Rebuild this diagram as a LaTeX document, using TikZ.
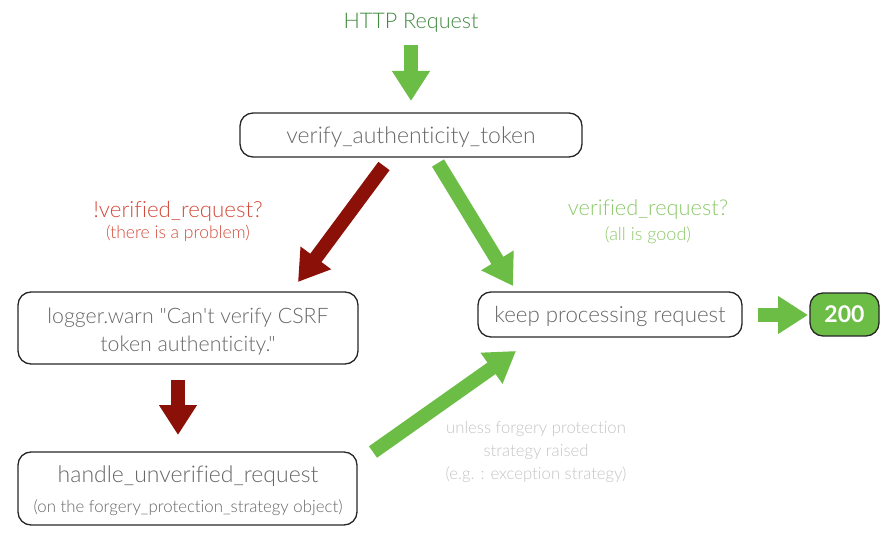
\documentclass[tikz,border=0pt]{standalone}
\usepackage{fontspec}
\setmainfont{Lato}[UprightFont={* Light},BoldFont={* Bold},Ligatures={TeXOff,CommonOff}]
\usetikzlibrary{arrows.meta}
\definecolor{garrow}{HTML}{6CBD45}
\definecolor{rarrow}{HTML}{8A1008}
\definecolor{txt}{HTML}{666666}
\definecolor{httpc}{HTML}{3F8A3F}
\definecolor{redc}{HTML}{D24A3A}
\definecolor{lgreen}{HTML}{8CC86A}
\definecolor{lgray}{HTML}{C4C4C4}
\newcommand{\fs}[1]{\fontsize{#1}{#1}\selectfont}
\tikzset{
  box/.style={draw=black!85, line width=1.3pt, rounded corners=13pt, inner sep=0pt},
  lbl/.style={text=txt, inner sep=0pt, anchor=base},
  garr/.style={draw=garrow, line width=14pt, -{Triangle[width=36pt,length=30pt]}},
  rarr/.style={draw=rarrow, line width=14pt, -{Triangle[width=36pt,length=30pt]}},
}
\begin{document}
\begin{tikzpicture}[x=1pt,y=-1pt]
\useasboundingbox (0,0) rectangle (892,543);
% boxes
\node[box, minimum width=342pt, minimum height=44pt] (verify) at (411,135) {};
\node[box, minimum width=340pt, minimum height=72pt] (logger) at (188,328) {};
\node[box, minimum width=264pt, minimum height=45pt] (keep) at (610,314.5) {};
\node[box, fill=garrow, minimum width=69pt, minimum height=43pt] (ok) at (844.5,314.5) {};
\node[box, minimum width=339pt, minimum height=73pt] (handle) at (187.5,488.5) {};
% texts
\node[lbl, text=httpc, font=\fs{21.6}] (http) at (411,29) {HTTP Request};
\node[lbl, font=\fs{23}] (verifyt) at (411,143) {verify\_authenticity\_token};
\node[lbl, font=\fs{21.3}] (log1) at (188,323) {logger.warn \char34 Can\char39 t verify CSRF};
\node[lbl, font=\fs{21.3}] (log2) at (188,351) {token authenticity.\char34};
\node[lbl, font=\fs{22.3}] (keept) at (610,322) {keep processing request};
\node[lbl, text=white, font=\fs{23}\bfseries] (okt) at (844.5,322.5) {200};
\node[lbl, font=\fs{23}] (hand1) at (188,482) {handle\_unverified\_request};
\node[lbl, font=\fs{16.8}] (hand2) at (188,512) {(on the forgery\_protection\_strategy object)};
\node[lbl, text=redc, font=\fs{22.3}] (bad1) at (178,217) {!verified\_request?};
\node[lbl, text=redc, font=\fs{17.5}] (bad2) at (178,238.5) {(there is a problem)};
\node[lbl, text=lgreen, font=\fs{21.8}] (good1) at (648,215) {verified\_request?};
\node[lbl, text=lgreen, font=\fs{18}] (good2) at (648,240) {(all is good)};
\node[lbl, text=lgray, font=\fs{16.7}] (un1) at (536,433) {unless forgery protection};
\node[lbl, text=lgray, font=\fs{16.7}] (un2) at (536,456) {strategy raised};
\node[lbl, text=lgray, font=\fs{16.7}] (un3) at (536,479) {(e.g. : exception strategy)};
% arrows
\coordinate (a1s) at (411,45);
\coordinate (a1e) at (411,101);
\draw[garr] (a1s) -- (a1e);
\coordinate (a2s) at (384,166);
\coordinate (a2e) at (298,282);
\draw[rarr] (a2s) -- (a2e);
\coordinate (a3s) at (438,163);
\coordinate (a3e) at (513,286);
\draw[garr] (a3s) -- (a3e);
\coordinate (a4s) at (758,315);
\coordinate (a4e) at (808,315);
\draw[garr] (a4s) -- (a4e);
\coordinate (a5s) at (178,380);
\coordinate (a5e) at (178,435);
\draw[rarr] (a5s) -- (a5e);
\coordinate (a6s) at (373,452);
\coordinate (a6e) at (516,351);
\draw[garr] (a6s) -- (a6e);
\end{tikzpicture}
\end{document}
